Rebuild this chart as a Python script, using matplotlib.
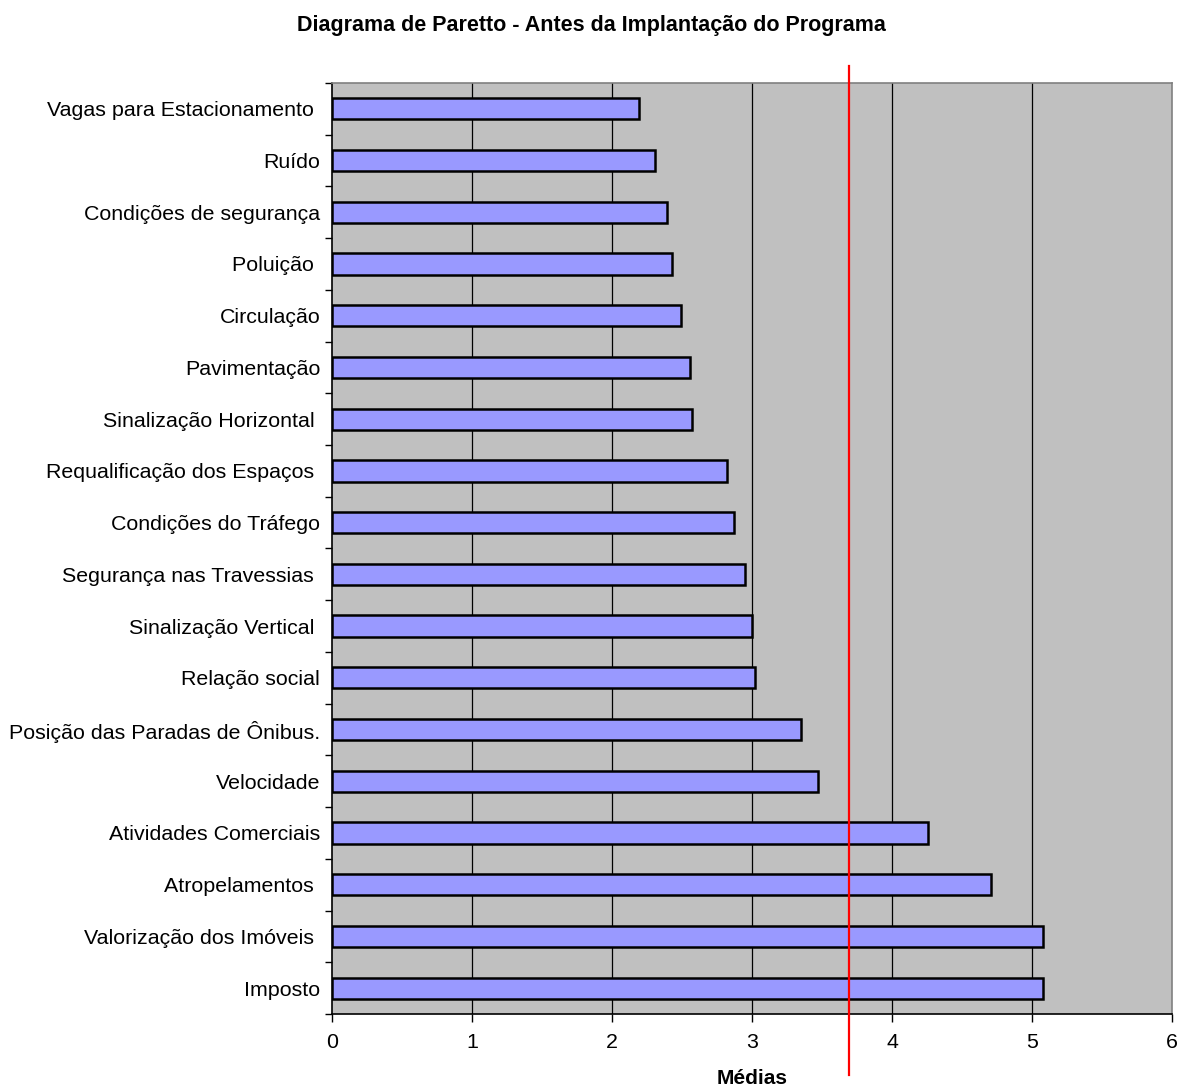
import matplotlib
matplotlib.use("Agg")
import matplotlib.pyplot as plt
import numpy as np
from matplotlib.transforms import blended_transform_factory

plt.rcParams['font.family'] = ['Liberation Sans', 'DejaVu Sans']

# Categories listed from top to bottom
categories = [
    "Vagas para Estacionamento ",
    "Ruído",
    "Condições de segurança",
    "Poluição ",
    "Circulação",
    "Pavimentação",
    "Sinalização Horizontal ",
    "Requalificação dos Espaços ",
    "Condições do Tráfego",
    "Segurança nas Travessias ",
    "Sinalização Vertical ",
    "Relação social",
    "Posição das Paradas de Ônibus.",
    "Velocidade",
    "Atividades Comerciais",
    "Atropelamentos ",
    "Valorização dos Imóveis ",
    "Imposto",
]
medias = [2.19, 2.31, 2.39, 2.43, 2.49, 2.56, 2.57, 2.82, 2.87, 2.95,
          3.00, 3.02, 3.35, 3.47, 4.26, 4.71, 5.08, 5.08]
cutoff = 3.69
x_ticks = [0, 1, 2, 3, 4, 5, 6]

fig = plt.figure(figsize=(11.83, 10.90), dpi=100)
ax = fig.add_axes([0.2806, 0.0697, 0.9907 - 0.2806, 0.9239 - 0.0697])
ax.set_facecolor('#C0C0C0')

y = np.arange(len(categories))
ax.barh(y, medias, height=0.41, color='#9999FF', edgecolor='black',
        linewidth=1.8, zorder=3)

ax.set_xlim(0, 6)
ax.set_ylim(len(categories) - 0.5, -0.5)
ax.set_xticks(x_ticks)
ax.set_xticklabels([str(t) for t in x_ticks], fontsize=15.4)
ax.tick_params(axis='x', direction='out', length=6, width=1, pad=8)

ax.set_yticks(y)
ax.set_yticklabels(categories, fontsize=15.4)
ax.tick_params(axis='y', which='major', length=0, pad=8.5)
ax.set_yticks(np.arange(-0.5, len(categories), 1.0), minor=True)
ax.tick_params(axis='y', which='minor', direction='out', length=5, width=1)

for gx in x_ticks[1:-1]:
    ax.axvline(gx, color='black', linewidth=0.9, zorder=1)

ax.spines['left'].set_color('black')
ax.spines['bottom'].set_color('black')
ax.spines['top'].set_color('#808080')
ax.spines['right'].set_color('#808080')
for s in ax.spines.values():
    s.set_linewidth(1.2)

# Cut-off line crossing the whole chart
trans = blended_transform_factory(ax.transData, ax.transAxes)
ax.plot([cutoff, cutoff], [-0.0655, 1.018], color='#FF0000', linewidth=1.6,
        transform=trans, clip_on=False, zorder=5)

fig.text(0.5, 1 - 25 / 1090, "Diagrama de Paretto - Antes da Implantação do Programa",
         ha='center', va='center', fontsize=15.5, fontweight='bold')
ax_box = ax.get_position()
fig.text((ax_box.x0 + ax_box.x1) / 2, 1 - 1078 / 1090, "Médias",
         ha='center', va='center', fontsize=15, fontweight='bold')

fig.savefig("out.png", dpi=100)
